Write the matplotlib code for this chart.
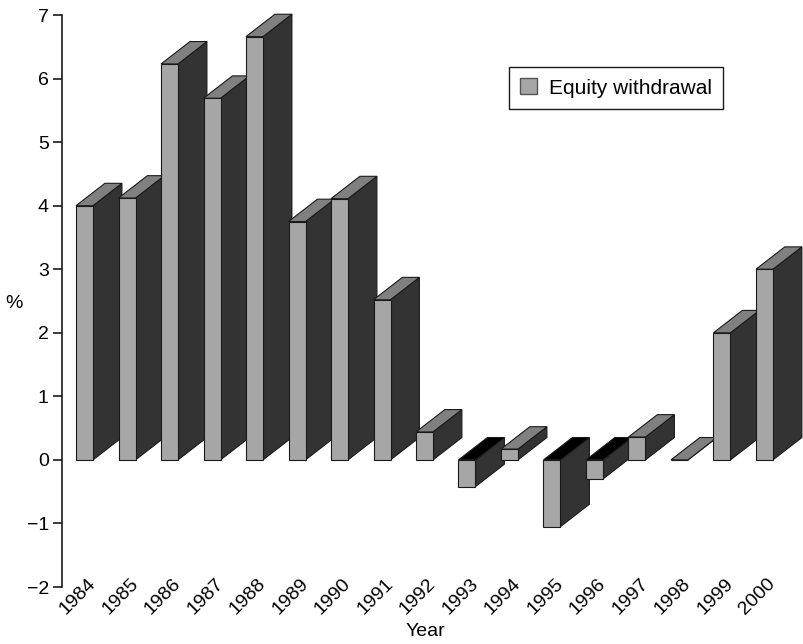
#!/usr/bin/env python3
"""Equity withdrawal as % by year, drawn as pseudo-3D bars."""
import matplotlib

matplotlib.use("Agg")
import matplotlib.pyplot as plt
import numpy as np
from matplotlib.patches import Patch, Polygon

plt.rcParams["font.family"] = ["Liberation Sans", "DejaVu Sans"]
plt.rcParams["font.size"] = 14

years = [str(y) for y in range(1984, 2001)]
withdrawal = [4.0, 4.12, 6.23, 5.69, 6.66, 3.75, 4.11, 2.52, 0.44,
              -0.42, 0.17, -1.05, -0.30, 0.36, 0.0, 2.0, 3.0]

FRONT = "#a6a6a6"
SIDE = "#333333"
TOP = "#808080"
TOP_NEG = "#000000"
EDGE = "#1a1a1a"

W = 0.40      # front face width (bar units)
DX = 0.68     # depth offset, x
DY = 0.352    # depth offset, y (data units)


def bar3d(ax, x, v):
    lo, hi = min(v, 0.0), max(v, 0.0)
    kw = dict(edgecolor=EDGE, lw=0.8, joinstyle="miter", clip_on=False)
    side = [(x + W, lo), (x + W + DX, lo + DY), (x + W + DX, hi + DY), (x + W, hi)]
    top = [(x, hi), (x + W, hi), (x + W + DX, hi + DY), (x + DX, hi + DY)]
    front = [(x, lo), (x + W, lo), (x + W, hi), (x, hi)]
    ax.add_patch(Polygon(side, closed=True, facecolor=SIDE, **kw))
    ax.add_patch(Polygon(top, closed=True, facecolor=TOP if v >= 0 else TOP_NEG, **kw))
    ax.add_patch(Polygon(front, closed=True, facecolor=FRONT, **kw))


fig = plt.figure(figsize=(8.04, 6.44), dpi=100, facecolor="white")
ax = fig.add_axes([62 / 804, 1 - 587 / 644, 1 - 62 / 804, (587 - 15) / 644])

x = np.arange(len(years))
for xi, v in zip(x, withdrawal):
    bar3d(ax, xi, v)

ax.set_xlim(-0.33, 17.13)
ax.set_ylim(-2, 7)
ax.set_yticks(range(-2, 8))
for s in ("top", "right", "bottom"):
    ax.spines[s].set_visible(False)
ax.spines["left"].set_color(EDGE)
ax.spines["left"].set_linewidth(1.2)
ax.tick_params(axis="y", length=6.5, width=1.2, color=EDGE, pad=3)

ax.set_xticks(x + W)
ax.set_xticklabels(years, rotation=45, ha="right", va="center", rotation_mode="anchor")
ax.tick_params(axis="x", length=0, pad=-4)

fig.text(14 / 804, 1 - 303 / 644, "%", ha="center", va="center")
fig.text(425 / 804, 1 - 632 / 644, "Year", ha="center", va="center")

leg = fig.legend(handles=[Patch(facecolor=FRONT, edgecolor="#555555", label="Equity withdrawal")],
                 loc="upper left", bbox_to_anchor=(509 / 804, 1 - 67 / 644), borderaxespad=0,
                 fancybox=False, framealpha=1, edgecolor=EDGE, fontsize=15,
                 handlelength=0.8, handleheight=0.8, borderpad=0.55, handletextpad=0.55)
leg.get_frame().set_linewidth(1.0)

fig.savefig("out.png", dpi=100)
